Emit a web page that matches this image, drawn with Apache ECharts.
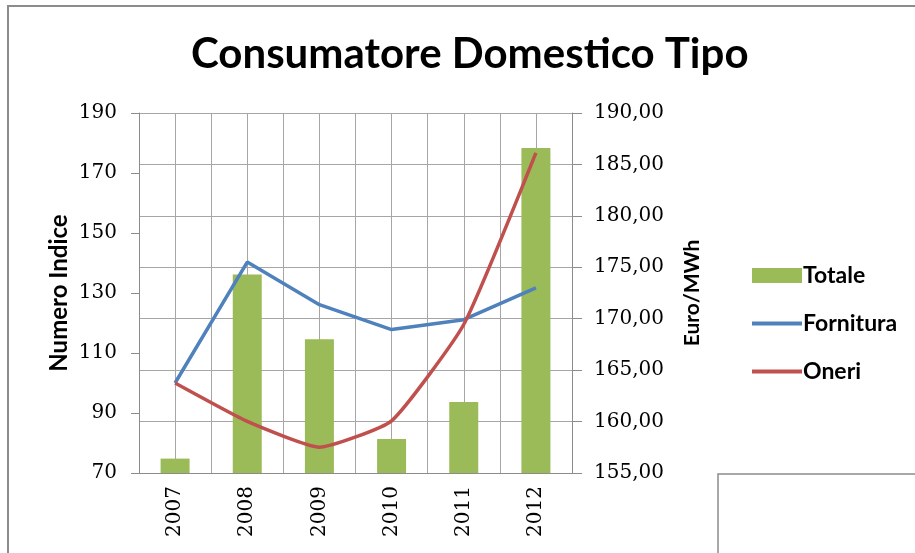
<!DOCTYPE html>
<html>
<head>
<meta charset="utf-8">
<script src="https://cdn.jsdelivr.net/npm/echarts@6/dist/echarts.min.js"></script>
<style>
  html, body { margin: 0; padding: 0; background: #ffffff; }
  #chart { width: 915px; height: 553px; }
</style>
</head>
<body>
<div id="chart"></div>
<script>
const years = ['2007', '2008', '2009', '2010', '2011', '2012'];
const totale = [156.4, 174.3, 168.0, 158.3, 161.9, 186.6];
const fornitura = [100, 140.3, 126.1, 117.8, 121.1, 131.7];
const oneri = [100, 87.2, 78.6, 87.4, 119.5, 176.7];
const leftTicks = { min: 70, max: 190, interval: 20 };
const rightTicks = { min: 155, max: 190, interval: 5 };

const serif = 'DejaVu Serif';
const sans = 'Lato';
const gridColor = '#a6a6a6';
const axisColor = '#8c8c8c';
const lineIcon = 'path://M0,0 L50,0 L50,4 L0,4 Z';

const chart = echarts.init(document.getElementById('chart'));
chart.setOption({
  animation: false,
  backgroundColor: '#ffffff',
  title: {
    text: 'Consumatore Domestico Tipo',
    left: 186,
    top: 28,
    textStyle: { fontFamily: sans, fontWeight: 'bold', fontSize: 42, color: '#000' }
  },
  graphic: [
    { type: 'rect', shape: { x: 8, y: 6, width: 1000, height: 1000 },
      style: { fill: 'none', stroke: '#8c8c8c', lineWidth: 2 }, z: -1 },
    { type: 'rect', shape: { x: 718, y: 474, width: 400, height: 200 },
      style: { fill: '#ffffff', stroke: '#8c8c8c', lineWidth: 1.5 }, z: 10 }
  ],
  legend: {
    orient: 'vertical',
    left: 747,
    top: 259,
    itemWidth: 50,
    itemHeight: 15,
    itemGap: 25,
    textStyle: { fontFamily: sans, fontWeight: 'bold', fontSize: 23, color: '#000', padding: [0, 0, 0, -4] },
    data: [
      { name: 'Totale', icon: 'rect' },
      { name: 'Fornitura', icon: lineIcon },
      { name: 'Oneri', icon: lineIcon }
    ]
  },
  grid: { left: 139, right: 343, top: 113, bottom: 80, containLabel: false },
  xAxis: [
    {
      type: 'category',
      data: years,
      boundaryGap: true,
      axisLine: { lineStyle: { color: axisColor, width: 1 } },
      axisTick: { show: false },
      axisLabel: { rotate: 90, margin: 13, fontFamily: serif, fontSize: 20, color: '#000' },
      splitLine: { show: false }
    },
    {
      type: 'value',
      min: 0, max: 12, interval: 1,
      position: 'top',
      axisLine: { show: false },
      axisTick: { show: false },
      axisLabel: { show: false },
      splitLine: { show: true, lineStyle: { color: gridColor, width: 1 } }
    }
  ],
  yAxis: [
    {
      type: 'value',
      position: 'left',
      min: leftTicks.min, max: leftTicks.max, interval: leftTicks.interval,
      name: 'Numero Indice',
      nameLocation: 'middle',
      nameGap: 68,
      nameRotate: 90,
      nameTextStyle: { fontFamily: sans, fontWeight: 'bold', fontSize: 24, color: '#000' },
      axisLine: { show: true, lineStyle: { color: axisColor, width: 1 } },
      axisTick: { show: true, length: 8, lineStyle: { color: axisColor } },
      axisLabel: { margin: 22, fontFamily: serif, fontSize: 20, color: '#000' },
      splitLine: { show: false }
    },
    {
      type: 'value',
      position: 'right',
      min: rightTicks.min, max: rightTicks.max, interval: rightTicks.interval,
      name: 'Euro/MWh',
      nameLocation: 'middle',
      nameGap: 110,
      nameRotate: 90,
      nameTextStyle: { fontFamily: sans, fontWeight: 'bold', fontSize: 21, color: '#000' },
      axisLine: { show: true, lineStyle: { color: axisColor, width: 1 } },
      axisTick: { show: true, length: 10, lineStyle: { color: axisColor } },
      axisLabel: {
        margin: 22, fontFamily: serif, fontSize: 20, color: '#000',
        formatter: v => v.toFixed(2).replace('.', ',')
      },
      splitLine: { show: true, lineStyle: { color: gridColor, width: 1 } }
    }
  ],
  series: [
    {
      name: 'Totale', type: 'bar', xAxisIndex: 0, yAxisIndex: 1,
      data: totale, barWidth: 29,
      itemStyle: { color: '#9bbb59' }
    },
    {
      name: 'Fornitura', type: 'line', xAxisIndex: 0, yAxisIndex: 0,
      data: fornitura, symbol: 'none',
      lineStyle: { color: '#4f81bd', width: 3.5 },
      itemStyle: { color: '#4f81bd' }
    },
    {
      name: 'Oneri', type: 'line', xAxisIndex: 0, yAxisIndex: 0,
      data: oneri, symbol: 'none', smooth: 0.15,
      lineStyle: { color: '#c0504d', width: 3.5 },
      itemStyle: { color: '#c0504d' }
    }
  ]
});
</script>
</body>
</html>
